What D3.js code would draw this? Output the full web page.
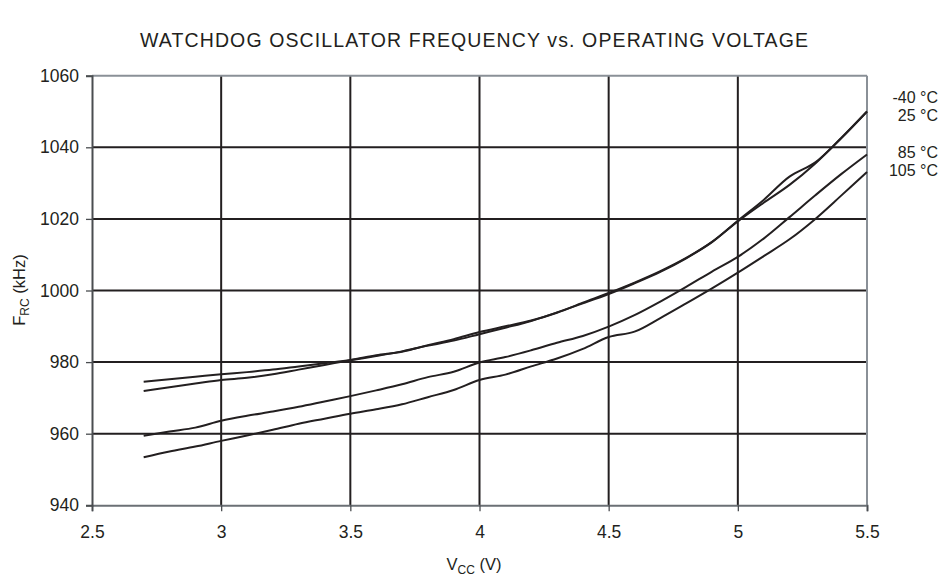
<!DOCTYPE html>
<html><head><meta charset="utf-8">
<script src="https://cdn.jsdelivr.net/npm/d3@7"></script>
<style>body{margin:0;background:#fff}svg{display:block}text{font-family:"Liberation Sans",Arial,sans-serif;fill:#231f20}</style>
</head><body><svg id="c" width="947" height="581"></svg>
<script>
const voltages = [2.7,2.8,2.9,3.0,3.1,3.2,3.3,3.4,3.5,3.6,3.7,3.8,3.9,4.0,4.1,4.2,4.3,4.4,4.5,4.6,4.7,4.8,4.9,5.0,5.1,5.2,5.3,5.4,5.5];
const fM40 = [974.5,975.2,975.9,976.6,977.2,977.9,978.8,979.7,980.6,981.9,982.9,984.7,986.4,988.4,990.0,991.6,993.8,996.6,999.3,1002.2,1005.4,1009.1,1013.6,1019.3,1024.5,1029.5,1035.5,1042.5,1050.0];
const f25  = [971.9,973.0,974.0,975.0,975.6,976.6,977.9,979.2,980.5,981.7,983.0,984.6,986.0,987.8,989.6,991.5,993.9,996.4,999.0,1002.0,1005.2,1009.0,1013.5,1019.5,1025.3,1031.8,1035.8,1042.6,1050.0];
const f85  = [959.4,960.6,961.7,963.6,965.0,966.2,967.5,969.0,970.5,972.1,973.8,975.8,977.3,979.9,981.4,983.3,985.4,987.3,989.9,993.1,996.9,1001.0,1005.3,1009.4,1014.5,1020.5,1026.6,1032.5,1038.0];
const f105 = [953.4,955.0,956.4,958.0,959.5,961.1,962.8,964.2,965.6,966.8,968.2,970.2,972.2,975.0,976.5,978.8,981.0,983.7,987.0,988.5,992.3,996.4,1000.6,1005.0,1009.6,1014.3,1020.0,1026.5,1033.1];
const seriesNames = ["-40 °C","25 °C","85 °C","105 °C"];
const xTicks = [2.5,3,3.5,4,4.5,5,5.5];
const yTicks = [940,960,980,1000,1020,1040,1060];
const title = "WATCHDOG OSCILLATOR FREQUENCY vs. OPERATING VOLTAGE";

const svg = d3.select("#c");
const x = d3.scaleLinear().domain([2.5,5.5]).range([92,867]);
const y = d3.scaleLinear().domain([940,1060]).range([505.3,75.7]);
const dark = "#231f20", gray = "#8a9097";

svg.append("text").attr("x",474).attr("y",47).attr("text-anchor","middle")
  .attr("font-size",19.5).attr("textLength",668).attr("lengthAdjust","spacing").text(title);

// grid
const g = svg.append("g");
g.selectAll(".vg").data(xTicks.slice(1,-1)).join("line")
  .attr("x1",d=>x(d)).attr("x2",d=>x(d)).attr("y1",y(1060)).attr("y2",y(940))
  .attr("stroke",dark).attr("stroke-width",2);
g.selectAll(".hg").data(yTicks.slice(1,-1)).join("line")
  .attr("x1",x(2.5)).attr("x2",x(5.5)).attr("y1",d=>y(d)).attr("y2",d=>y(d))
  .attr("stroke",dark).attr("stroke-width",2);
g.append("line").attr("x1",x(2.5)).attr("x2",x(5.5)).attr("y1",y(1060)).attr("y2",y(1060)).attr("stroke",gray).attr("stroke-width",2);
g.append("line").attr("x1",x(5.5)).attr("x2",x(5.5)).attr("y1",y(1060)).attr("y2",y(940)).attr("stroke",gray).attr("stroke-width",2);

// axes
const xa = svg.append("g").attr("transform",`translate(0,${y(940)})`)
  .call(d3.axisBottom(x).tickValues(xTicks).tickSize(6).tickPadding(14).tickFormat(d3.format("")));
const ya = svg.append("g").attr("transform",`translate(${x(2.5)},0)`)
  .call(d3.axisLeft(y).tickValues(yTicks).tickSize(6).tickPadding(7).tickFormat(d3.format("d")));
[xa,ya].forEach(a=>{
  a.selectAll("path").attr("stroke","#4a4d50").attr("stroke-width",2);
  a.selectAll("line").attr("stroke","#4a4d50").attr("stroke-width",1.3);
  a.selectAll("text").attr("font-size",17.5).attr("fill",dark)
   .attr("font-family","Liberation Sans, Arial, sans-serif");
});
xa.select("path").attr("stroke","#6b7075");

// curves
const data = [fM40,f25,f85,f105];
const line = d3.line().x((d,i)=>x(voltages[i])).y(d=>y(d)).curve(d3.curveCatmullRom.alpha(0.5));
svg.append("g").selectAll("path").data(data).join("path")
  .attr("d",line).attr("fill","none").attr("stroke",dark).attr("stroke-width",2);

// labels
const labelY = [97,115,152,170];
svg.append("g").selectAll("text").data(seriesNames).join("text")
  .attr("x",938).attr("y",(d,i)=>labelY[i]+6).attr("text-anchor","end")
  .attr("font-size",16).text(d=>d);

// axis titles
const yl = svg.append("text").attr("transform","translate(25,290) rotate(-90)")
  .attr("text-anchor","middle").attr("font-size",16.5);
yl.append("tspan").text("F");
yl.append("tspan").attr("font-size",12).attr("dy",4).text("RC");
yl.append("tspan").attr("dy",-4).text(" (kHz)");
const xl = svg.append("text").attr("x",474).attr("y",570).attr("text-anchor","middle").attr("font-size",16.5);
xl.append("tspan").text("V");
xl.append("tspan").attr("font-size",12).attr("dy",4).text("CC");
xl.append("tspan").attr("dy",-4).text(" (V)");
</script></body></html>
